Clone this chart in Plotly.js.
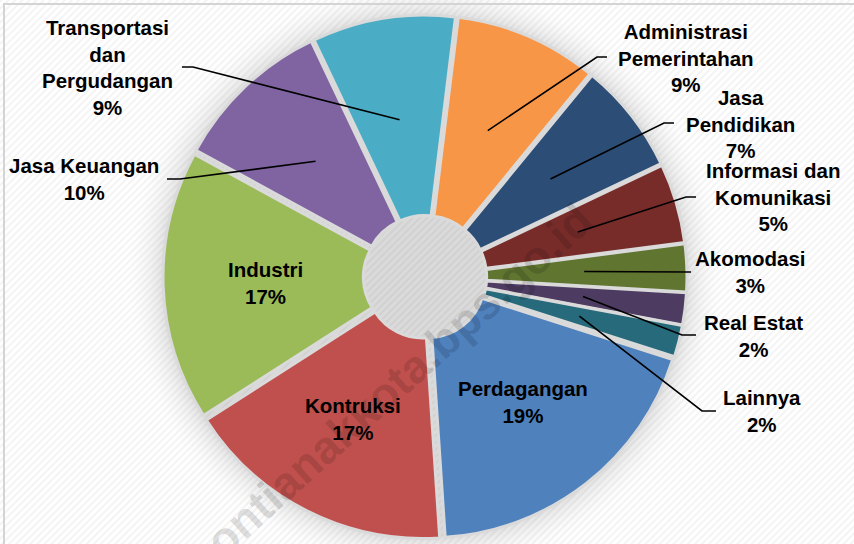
<!DOCTYPE html>
<html><head><meta charset="utf-8">
<script src="https://cdn.plot.ly/plotly-3.0.1.min.js"></script>
<style>html,body{margin:0;padding:0;background:#fff;}#chart{width:854px;height:544px;}</style>
</head><body><div id="chart"></div>
<script>
// ---- data ----
const categories = ['Administrasi Pemerintahan','Jasa Pendidikan','Informasi dan Komunikasi','Akomodasi','Real Estat','Lainnya','Perdagangan','Kontruksi','Industri','Jasa Keuangan','Transportasi dan Pergudangan'];
const shares = [9, 7, 5, 3, 2, 2, 19, 17, 17, 10, 9];
const labelLines = [['Administrasi','Pemerintahan'],['Jasa','Pendidikan'],['Informasi dan','Komunikasi'],['Akomodasi'],['Real Estat'],['Lainnya'],['Perdagangan'],['Kontruksi'],['Industri'],['Jasa Keuangan'],['Transportasi','dan','Pergudangan']];
const colors = ['#F79646','#2C4D75','#772C2A','#5F7530','#4D3B62','#276A7C','#4F81BD','#C0504D','#9BBB59','#8064A2','#4BACC6'];
const watermark = 'pontianakkota.bps.go.id';

// ---- layout constants ----
const W = 854, H = 544, T = 15, B = 5;
const PULL = 0.02, HOLE = 0.22, ROT = 7;
const plotH = H - T - B;
const cx = 425, cy = T + plotH / 2;
const R = plotH / 2 / (1 + PULL);
// label placement in px: [labelX, labelY, elbowX, elbowY, endX, endY]; null = inside label
const labelPlace = [
  [686, 58, 597, 57, 607, 57],
  [740, 124, 664, 123, 674, 123],
  [773, 197, 686, 197, 696, 197],
  [750, 272, 688, 272, 691, 272],
  [753, 336, 682, 335, 696, 335],
  [762, 411, 702, 411, 716, 411],
  null, null, null,
  [84, 179, 180, 179, 167, 179],
  [107, 67, 193, 67, 182, 67]
];

const px2x = p => p / W;
const px2y = p => (H - B - p) / plotH;

const total = shares.reduce((a, b) => a + b, 0);
const annotations = [];
const shapes = [];
let cum = 0;
shares.forEach((v, i) => {
  const midDeg = ROT + 360 * (cum + v / 2) / total;
  cum += v;
  const a = midDeg * Math.PI / 180;
  const dx = Math.sin(a), dy = -Math.cos(a);
  const rr = 0.6 * R + PULL * R;
  const tx = cx + rr * dx, ty = cy + rr * dy;
  const pct = Math.round(v / total * 100) + '%';
  const text = labelLines[i].concat([pct]).join('<br>');
  const lp = labelPlace[i];
  if (lp) {
    annotations.push({xref:'paper', yref:'paper', x:px2x(lp[0]), y:px2y(lp[1]), text:text, showarrow:false,
      xanchor:'center', yanchor:'middle', align:'center'});
    shapes.push({type:'path', xref:'paper', yref:'paper',
      path:`M ${px2x(tx)},${px2y(ty)} L ${px2x(lp[2])},${px2y(lp[3])} L ${px2x(lp[4])},${px2y(lp[5])}`,
      line:{color:'#000', width:1.6}});
  } else {
    annotations.push({xref:'paper', yref:'paper', x:px2x(tx), y:px2y(ty), text:text, showarrow:false,
      xanchor:'center', yanchor:'middle', align:'center'});
  }
});

// watermark
annotations.push({xref:'paper', yref:'paper', x:px2x(388), y:px2y(390), text:watermark, showarrow:false,
  textangle:-42, font:{size:46, color:'rgba(0,0,0,0.15)', family:'Liberation Sans, Arial, sans-serif', weight:'bold'},
  xanchor:'center', yanchor:'middle'});

// border
shapes.push({type:'rect', xref:'paper', yref:'paper', x0:px2x(4), y0:px2y(600), x1:px2x(900), y1:px2y(4),
  line:{color:'#d4d4d4', width:2}, fillcolor:'rgba(0,0,0,0)', layer:'below'});

// background (stripes + soft shadow)
const svg = `<svg xmlns='http://www.w3.org/2000/svg' width='${W}' height='${H}'>
<defs>
<radialGradient id='g' gradientUnits='userSpaceOnUse' cx='${cx}' cy='${cy}' r='300'>
<stop offset='0' stop-color='#dadada' stop-opacity='1'/>
<stop offset='0.86' stop-color='#dadada' stop-opacity='1'/>
<stop offset='0.9' stop-color='#e6e6e6' stop-opacity='0.7'/>
<stop offset='1' stop-color='#ffffff' stop-opacity='0'/>
</radialGradient>
<pattern id='p' width='5' height='5' patternUnits='userSpaceOnUse' patternTransform='rotate(45)'>
<rect width='2' height='5' fill='rgba(0,0,0,0.045)'/>
</pattern>
</defs>
<rect width='${W}' height='${H}' fill='#ffffff'/>
<circle cx='${cx}' cy='${cy}' r='300' fill='url(#g)'/>
<rect width='${W}' height='${H}' fill='url(#p)'/>
</svg>`;
const bgSrc = 'data:image/svg+xml;charset=utf-8,' + encodeURIComponent(svg);

const trace = {
  type:'pie', values:shares, labels:categories, sort:false, direction:'clockwise', rotation:ROT,
  hole:HOLE, pull:shares.map(() => PULL), textinfo:'none', hoverinfo:'label+percent',
  marker:{colors:colors, line:{color:'#dadada', width:3}},
  domain:{x:[0, 850 / W], y:[0, 1]}, showlegend:false
};

const layout = {
  width:W, height:H, margin:{l:0, r:0, t:T, b:B},
  paper_bgcolor:'rgba(0,0,0,0)', plot_bgcolor:'rgba(0,0,0,0)',
  font:{family:'"Liberation Sans", Arial, sans-serif', size:20.5, color:'#000', weight:'bold'},
  annotations:annotations, shapes:shapes,
  images:[{source:bgSrc, xref:'paper', yref:'paper', x:0, y:px2y(0), sizex:1, sizey:H / plotH,
    xanchor:'left', yanchor:'top', sizing:'stretch', layer:'below'}]
};

Plotly.newPlot('chart', [trace], layout, {displayModeBar:false, staticPlot:true});
</script></body></html>
